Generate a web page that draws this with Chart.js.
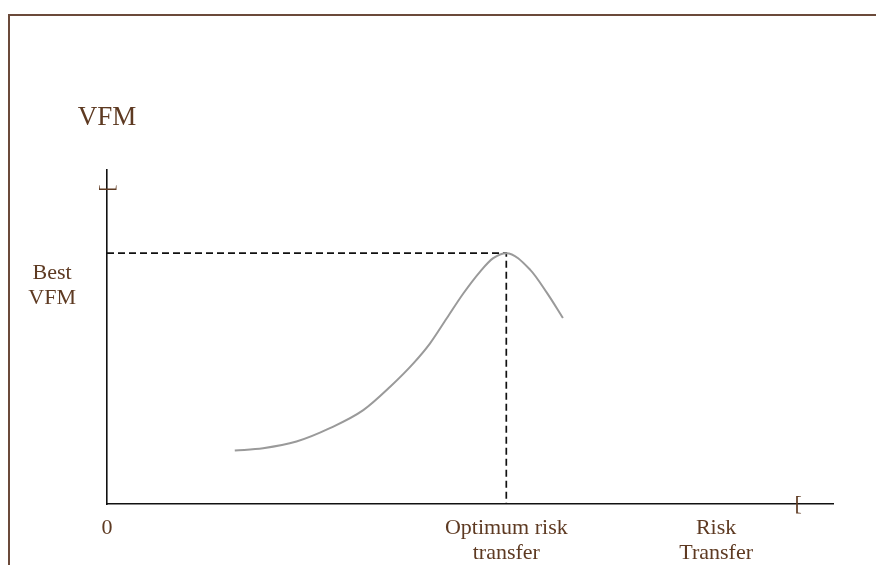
<!DOCTYPE html>
<html>
<head>
<meta charset="utf-8">
<title>VFM vs risk transfer</title>
<script src="https://cdn.jsdelivr.net/npm/chart.js@4"></script>
<style>
  html, body { margin: 0; padding: 0; background: #ffffff; overflow: hidden; }
  .wrap { position: relative; width: 876px; height: 565px; }
  .frame {
    position: absolute; left: 8px; top: 14px; right: -10px; bottom: -10px;
    border-top: 2px solid #6b4a3a; border-left: 2px solid #6b4a3a;
  }
  canvas { position: absolute; left: 0; top: 0; }
</style>
</head>
<body>
<div class="wrap">
  <div class="frame"></div>
  <canvas id="chart" width="876" height="565"></canvas>
</div>
<script>
// curve (x = risk transfer, y = VFM, both 0-100)
const riskTransfer = [17.6, 21.5, 26.1, 30.7, 35.3, 39.0, 42.2, 44.5, 46.8, 49.1, 51.4, 53.2, 55.0, 58.3, 60.6, 62.8];
const vfmValues = [16.0, 16.7, 18.7, 22.7, 28.1, 35.1, 42.1, 48.1, 55.6, 63.1, 69.6, 73.6, 75.1, 70.1, 63.2, 55.7];

// the optimum point
const optimumX = 55.0;
const bestVfm = 75.1;

// tick labels
const xTickValues = [0, 55.0, 83.9];
const xTickLabels = ['0', ['Optimum risk', 'transfer'], ['Risk', 'Transfer']];
const yTickValues = [65.4];
const yTickLabels = [['Best', 'VFM']];

const brown = '#5e3a22';
const serif = '"Liberation Serif", "DejaVu Serif", serif';

// extra text: axis title and the odd arrow glyphs
const annotations = {
  id: 'annotations',
  afterDraw(chart) {
    const { ctx, scales: { x, y } } = chart;
    ctx.save();
    ctx.fillStyle = brown;
    ctx.textAlign = 'center';

    ctx.font = '27px ' + serif;
    ctx.textBaseline = 'alphabetic';
    ctx.fillText('VFM', x.getPixelForValue(0), y.getPixelForValue(113.4));

    ctx.font = '22px ' + serif;
    ctx.textBaseline = 'middle';
    // end of x axis
    ctx.fillText('[', x.getPixelForValue(95.2), y.getPixelForValue(0));
    // top of y axis (same glyph turned up)
    ctx.translate(x.getPixelForValue(0), y.getPixelForValue(94.6));
    ctx.rotate(-Math.PI / 2);
    ctx.fillText('[', 0, 0);
    ctx.restore();
  }
};

new Chart(document.getElementById('chart'), {
  type: 'line',
  data: {
    datasets: [
      {
        data: riskTransfer.map((v, i) => ({ x: v, y: vfmValues[i] })),
        borderColor: '#9a9a9a',
        borderWidth: 2,
        pointRadius: 0,
        fill: false,
        cubicInterpolationMode: 'monotone'
      },
      {
        data: [{ x: 0, y: bestVfm }, { x: optimumX, y: bestVfm }, { x: optimumX, y: 0 }],
        borderColor: '#111111',
        borderWidth: 1.7,
        borderDash: [7, 4],
        pointRadius: 0,
        fill: false,
        tension: 0
      }
    ]
  },
  options: {
    responsive: false,
    animation: false,
    layout: { padding: { left: 0, top: 170, right: 43, bottom: 0 } },
    plugins: {
      legend: { display: false },
      tooltip: { enabled: false }
    },
    scales: {
      x: {
        type: 'linear',
        min: 0,
        max: 100,
        grid: { display: false, drawTicks: false },
        border: { display: true, color: '#111111', width: 1.6 },
        afterBuildTicks: (scale) => { scale.ticks = xTickValues.map(v => ({ value: v })); },
        afterFit: (scale) => { scale.height = 61; },
        ticks: {
          autoSkip: false,
          maxRotation: 0,
          padding: 12,
          color: brown,
          font: { family: serif, size: 22, lineHeight: 1.14 },
          callback: (value) => xTickLabels[xTickValues.indexOf(value)]
        }
      },
      y: {
        type: 'linear',
        min: 0,
        max: 100,
        grid: { display: false, drawTicks: false },
        border: { display: true, color: '#111111', width: 1.6 },
        afterBuildTicks: (scale) => { scale.ticks = yTickValues.map(v => ({ value: v })); },
        afterFit: (scale) => { scale.width = 107; },
        ticks: {
          autoSkip: false,
          crossAlign: 'center',
          padding: 31,
          color: brown,
          font: { family: serif, size: 22, lineHeight: 1.14 },
          callback: (value) => yTickLabels[yTickValues.indexOf(value)]
        }
      }
    }
  },
  plugins: [annotations]
});
</script>
</body>
</html>
